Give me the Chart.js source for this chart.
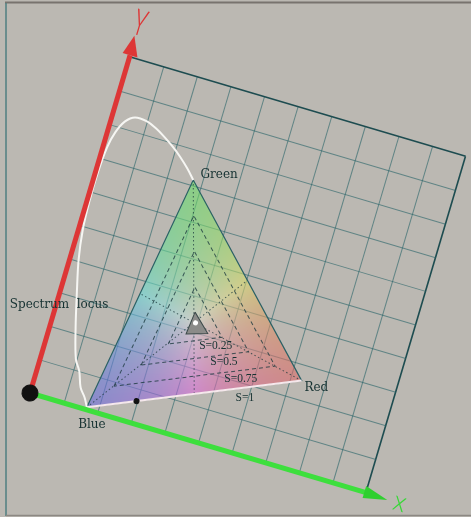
<!DOCTYPE html>
<html>
<head>
<meta charset="utf-8">
<script src="https://cdn.jsdelivr.net/npm/chart.js@4.4.1/dist/chart.umd.min.js"></script>
<style>
  html, body { margin: 0; padding: 0; background: #bbb8b2; overflow: hidden; }
  canvas { display: block; }
</style>
</head>
<body>
<canvas id="chroma" width="471" height="517"></canvas>
<script>
// ---- chromaticity data (x along the green axis, y along the red axis) ----
const primaryNames = ['Blue', 'Green', 'Red'];
const primaryX = [0.167, 0.274, 0.733];
const primaryY = [0.007, 0.715, 0.254];
const whitePoint = [0.396, 0.326];
const saturationLevels = [0.25, 0.5, 0.75, 1];
const locusX = [0.167, 0.153, 0.134, 0.117, 0.098, 0.072, 0.047, 0.025, 0.012, 0.007, 0.007,
                0.012, 0.022, 0.040, 0.064, 0.100, 0.130, 0.159, 0.190, 0.219, 0.248, 0.274];
const locusY = [0.007, 0.032, 0.056, 0.100, 0.130, 0.215, 0.312, 0.404, 0.490, 0.575, 0.660,
                0.735, 0.782, 0.820, 0.839, 0.838, 0.826, 0.810, 0.790, 0.768, 0.742, 0.715];
const achromaticX = [0.386, 0.379, 0.438];
const achromaticY = [0.355, 0.288, 0.307];
const purpleMarker = [0.298, 0.064];
const gridStep = 0.1;
const axisNames = ['X', 'Y'];

// ---- view / layout ----
const TILT = 16.5 * Math.PI / 180;      // the plane is turned clockwise
const ORIGIN = { x: 30, y: 393 };        // where the two axes meet on the page
const SIDE = 350.5;                      // length of one unit on the page
const PAGE_BG = '#bbb8b2';
const GRID = 'rgba(40,100,105,0.62)';
const EDGE = '#1d4c50';
const TEXT = '#163232';
const RED_AXIS = '#dd3636';
const GREEN_AXIS = '#3ddf3d';
const primaryRGB = [[0, 0, 1], [0, 1, 0], [1, 0, 0]];
const SHADE_LO = 100, SHADE_HI = 222, SHADE_ALPHA = 0.56;

const labelLayout = {
  Green: { x: 0.341, y: 0.749 }, Red: { x: 0.779, y: 0.247 }, Blue: { x: 0.195, y: -0.036 },
  locus: { x: 0.008, y: 0.265 },
  sat: [{ x: 0.470, y: 0.279 }, { x: 0.505, y: 0.243 }, { x: 0.565, y: 0.210 }, { x: 0.592, y: 0.160 }]
};
const arrowY = { x: [-0.022, 0.022, -0.004], y: [1.005, 1.005, 1.062] };
const arrowX = { x: [0.995, 0.995, 1.064], y: [0.018, -0.018, -0.003] };
const letterPos = { X: { x: 1.10, y: -0.010 }, Y: { x: 0.002, y: 1.092 } };

// ---- helpers ----
const pts = (xs, ys) => xs.map((x, i) => ({ x, y: ys[i] }));
const closed = p => p.concat([p[0]]);
const scaled = s => closed(primaryX.map((x, i) => ({
  x: whitePoint[0] + s * (x - whitePoint[0]),
  y: whitePoint[1] + s * (primaryY[i] - whitePoint[1])
})));
const lineSet = (data, o) => Object.assign({
  data, showLine: true, pointRadius: 0, borderWidth: 1, fill: false,
  clip: false, tension: 0
}, o);

// medians: each primary through the white point to the opposite edge
const medians = primaryX.map((x, i) => {
  const j = (i + 1) % 3, k = (i + 2) % 3;
  const mx = (primaryX[j] + primaryX[k]) / 2, my = (primaryY[j] + primaryY[k]) / 2;
  return lineSet([{ x, y: primaryY[i] }, { x: mx, y: my }],
    { borderColor: 'rgba(28,58,62,0.75)', borderDash: [1.5, 2.5], order: 10 });
});

const innerTriangles = saturationLevels.filter(s => s < 1).map(s =>
  lineSet(scaled(s), { borderColor: 'rgba(28,58,62,0.8)', borderDash: [4, 3], order: 9 }));

const datasets = [
  lineSet([{ x: 0, y: 0 }], { pointRadius: 8, pointBackgroundColor: '#111', pointBorderColor: '#111', showLine: false, order: 0 }),
  lineSet([{ x: 0, y: 0 }, { x: 1.0, y: 0 }], { borderColor: GREEN_AXIS, borderWidth: 5, order: 1 }),
  lineSet([{ x: 0, y: 0 }, { x: 0, y: 1.005 }], { borderColor: RED_AXIS, borderWidth: 5, order: 2 }),
  lineSet(pts(locusX, locusY), { borderColor: '#f6f6f3', borderWidth: 2, tension: 0.35, order: 3 }),
  lineSet([{ x: purpleMarker[0], y: purpleMarker[1] }], { pointRadius: 2.5, pointBackgroundColor: '#111', pointBorderColor: '#111', showLine: false, order: 4 }),
  lineSet([{ x: primaryX[0], y: primaryY[0] }, { x: primaryX[2], y: primaryY[2] }], { borderColor: 'rgba(255,238,242,0.95)', borderWidth: 2, order: 5 }),
  lineSet(closed(pts(primaryX, primaryY)), { borderColor: '#2b6165', borderWidth: 1.2, order: 6 }),
  lineSet([{ x: whitePoint[0], y: whitePoint[1] }], { pointRadius: 2, pointBackgroundColor: '#fff', pointBorderColor: '#fff', showLine: false, order: 7 }),
  lineSet(closed(pts(achromaticX, achromaticY)), { borderColor: '#3c4a4a', backgroundColor: '#8b8b89', fill: 'shape', order: 8 }),
  ...innerTriangles,
  ...medians
];

// ---- drawing helpers ----
function applyView(chart, c) {
  const a = chart.chartArea;
  c.translate(ORIGIN.x, ORIGIN.y);
  c.rotate(TILT);
  c.scale(SIDE / (a.right - a.left), SIDE / (a.bottom - a.top));
  c.translate(-a.left, -a.bottom);
}
function toScreen(chart, x, y) {
  const a = chart.chartArea;
  const px = (chart.scales.x.getPixelForValue(x) - a.left) * SIDE / (a.right - a.left);
  const py = (chart.scales.y.getPixelForValue(y) - a.bottom) * SIDE / (a.bottom - a.top);
  const cs = Math.cos(TILT), sn = Math.sin(TILT);
  return { x: ORIGIN.x + px * cs - py * sn, y: ORIGIN.y + px * sn + py * cs };
}
function paintGamut(chart) {
  const { ctx, chartArea: a } = chart;
  const xs = chart.scales.x, ys = chart.scales.y;
  const w = Math.round(a.right - a.left), h = Math.round(a.bottom - a.top);
  const off = document.createElement('canvas');
  off.width = w; off.height = h;
  const oc = off.getContext('2d');
  const img = oc.createImageData(w, h), d = img.data;
  const P = primaryX.map((x, i) => [xs.getPixelForValue(x) - a.left, ys.getPixelForValue(primaryY[i]) - a.top]);
  const [p0, p1, p2] = P;
  const den = (p1[1] - p2[1]) * (p0[0] - p2[0]) + (p2[0] - p1[0]) * (p0[1] - p2[1]);
  for (let j = 0; j < h; j++) {
    for (let i = 0; i < w; i++) {
      const x = i + 0.5, y = j + 0.5;
      const w0 = ((p1[1] - p2[1]) * (x - p2[0]) + (p2[0] - p1[0]) * (y - p2[1])) / den;
      const w1 = ((p2[1] - p0[1]) * (x - p2[0]) + (p0[0] - p2[0]) * (y - p2[1])) / den;
      const w2 = 1 - w0 - w1;
      if (w0 < 0 || w1 < 0 || w2 < 0) continue;
      const wt = [w0, w1, w2], m = Math.max(w0, w1, w2);
      const k = (j * w + i) * 4;
      for (let ch = 0; ch < 3; ch++) {
        let s = 0;
        for (let q = 0; q < 3; q++) s += wt[q] * primaryRGB[q][ch];
        d[k + ch] = SHADE_LO + (SHADE_HI - SHADE_LO) * s / m;
      }
      d[k + 3] = 255 * SHADE_ALPHA;
    }
  }
  oc.putImageData(img, 0, 0);
  ctx.drawImage(off, a.left, a.top);
}
function polygon(chart, shape, color) {
  const c = chart.ctx, xs = chart.scales.x, ys = chart.scales.y;
  c.beginPath();
  shape.x.forEach((x, i) => {
    const px = xs.getPixelForValue(x), py = ys.getPixelForValue(shape.y[i]);
    i ? c.lineTo(px, py) : c.moveTo(px, py);
  });
  c.closePath();
  c.fillStyle = color;
  c.fill();
}
function axisLetter(chart, text, pos, size, sx, color) {
  const c = chart.ctx;
  c.save();
  c.translate(chart.scales.x.getPixelForValue(pos.x), chart.scales.y.getPixelForValue(pos.y));
  c.scale(sx, 1);
  c.font = '300 ' + size + 'px Roboto, "DejaVu Sans", sans-serif';
  c.fillStyle = color;
  c.textAlign = 'center';
  c.textBaseline = 'middle';
  c.fillText(text, 0, 0);
  c.restore();
}

const viewPlugin = {
  id: 'tiltedPlane',
  beforeDraw(chart) {
    const c = chart.ctx, w = chart.width, h = chart.height;
    c.save();
    c.fillStyle = PAGE_BG;
    c.fillRect(0, 0, w, h);
    c.lineWidth = 2;
    c.strokeStyle = '#78736e';
    c.beginPath(); c.moveTo(5, 2.5); c.lineTo(w, 2.5); c.stroke();
    c.lineWidth = 1.5;
    c.strokeStyle = '#4f7f80';
    c.beginPath(); c.moveTo(6, 3); c.lineTo(6, h - 1); c.stroke();
    c.strokeStyle = '#8c8883';
    c.beginPath(); c.moveTo(6, h - 1.5); c.lineTo(w, h - 1.5); c.stroke();
    c.restore();
    c.save();
    applyView(chart, c);
  },
  beforeDatasetsDraw(chart) { paintGamut(chart); },
  afterDatasetsDraw(chart) {
    polygon(chart, arrowY, RED_AXIS);
    polygon(chart, arrowX, '#2fcf2f');
    axisLetter(chart, axisNames[0], letterPos.X, 20, 1.0, '#36d836');
    axisLetter(chart, axisNames[1], letterPos.Y, 36, 0.6, RED_AXIS);
  },
  afterDraw(chart) {
    const c = chart.ctx;
    c.restore();
    c.save();
    c.fillStyle = TEXT;
    c.textAlign = 'center';
    c.textBaseline = 'middle';
    c.font = '12px "DejaVu Serif", serif';
    primaryNames.forEach(n => {
      const p = toScreen(chart, labelLayout[n].x, labelLayout[n].y);
      c.fillText(n, p.x, p.y);
    });
    const lp = toScreen(chart, labelLayout.locus.x, labelLayout.locus.y);
    c.fillText('Spectrum  locus', lp.x, lp.y);
    c.font = '11.5px "Liberation Serif", serif';
    saturationLevels.forEach((s, i) => {
      const p = toScreen(chart, labelLayout.sat[i].x, labelLayout.sat[i].y);
      c.fillText('S=' + s, p.x, p.y);
    });
    c.restore();
  }
};

const gridOpts = {
  color: c => (Math.abs(c.tick.value - 1) < 1e-6 ? EDGE : GRID),
  lineWidth: c => (Math.abs(c.tick.value - 1) < 1e-6 ? 1.6 : 1),
  drawTicks: false
};

new Chart(document.getElementById('chroma'), {
  type: 'scatter',
  data: { datasets },
  options: {
    responsive: false,
    devicePixelRatio: 1,
    animation: false,
    events: [],
    layout: { padding: { left: 60, top: 80, right: 61, bottom: 87 } },
    plugins: { legend: { display: false }, tooltip: { enabled: false } },
    scales: {
      x: { type: 'linear', min: 0, max: 1, ticks: { display: false, stepSize: gridStep }, grid: gridOpts, border: { display: false } },
      y: { type: 'linear', min: 0, max: 1, ticks: { display: false, stepSize: gridStep }, grid: gridOpts, border: { display: false } }
    }
  },
  plugins: [viewPlugin]
});
</script>
</body>
</html>
